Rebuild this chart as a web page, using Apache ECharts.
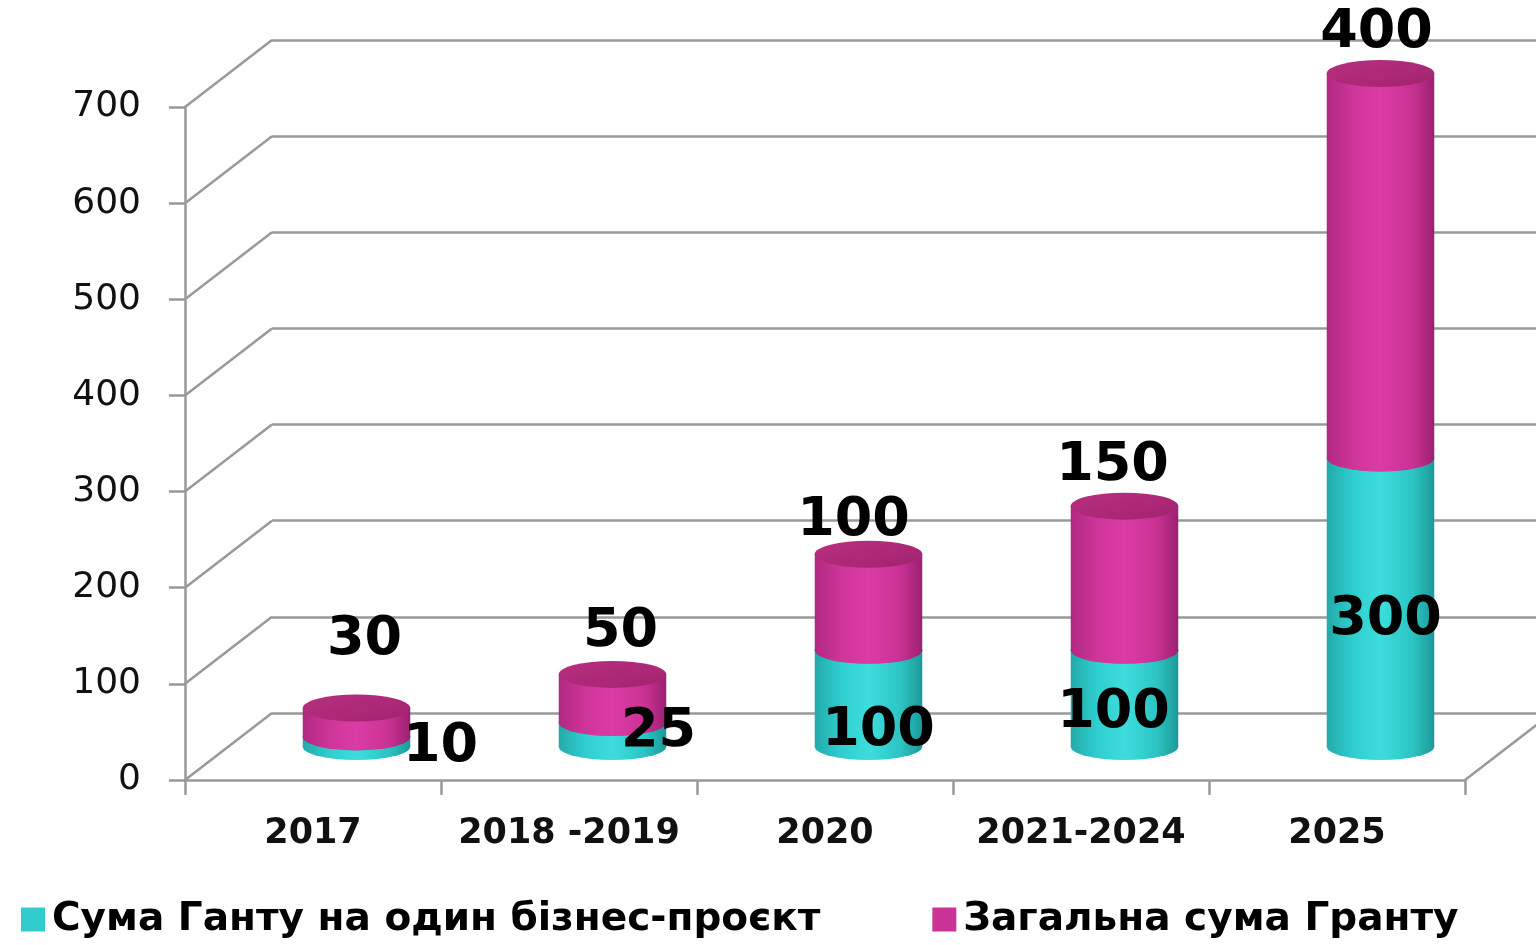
<!DOCTYPE html>
<html>
<head>
<meta charset="utf-8">
<script src="https://cdn.jsdelivr.net/npm/echarts@6/dist/echarts.min.js"></script>
<style>
  html, body { margin: 0; padding: 0; background: #fff; }
  #chart { width: 1536px; height: 945px; }
</style>
</head>
<body>
<div id="chart"></div>
<script>
// data
var categories = ['2017', '2018 -2019', '2020', '2021-2024', '2025'];
var grantPerProject = [10, 25, 100, 100, 300];
var totalGrant = [30, 50, 100, 150, 400];
var yMin = 0, yMax = 700, yStep = 100;

var seriesNames = ['Сума Ганту на один бізнес-проєкт', 'Загальна сума Гранту'];

// label nudges (px) relative to the default spot, like Excel placed them
var shiftPer = [[84, 5], [46, -3], [10, 33], [-11, 15], [5, 18]];
var shiftTotal = [[8, -68], [8, -42], [-15, -33], [-12, -40], [-4, -41]];

// 3d depth of the floor / back wall
var DX = 87, DY = 67, DEPTH = 0.5;
var FONT = '"DejaVu Sans", Verdana, sans-serif';
var GRID_COLOR = '#999999';

function drawTheChart() {
  var dom = document.getElementById('chart');
  var myChart = echarts.init(dom, null, { renderer: 'canvas' });

  var tickVals = [];
  for (var v = yMin; v <= yMax; v += yStep) tickVals.push([v]);

  var lowData = categories.map(function (c, i) {
    return [i, 0, grantPerProject[i], grantPerProject[i]];
  });
  var highData = categories.map(function (c, i) {
    return [i, grantPerProject[i], grantPerProject[i] + totalGrant[i], totalGrant[i]];
  });

  function cylinder(stops, topStops, shifts, midLabel) {
    return function (params, api) {
      var i = api.value(0);
      var pLo = api.coord([i, api.value(1)]);
      var pHi = api.coord([i, api.value(2)]);
      var bandW = api.size([1, 0])[0];
      var rx = bandW * 0.21, ry = 13.5;
      var cx = pLo[0] + DX * DEPTH;
      var yLo = pLo[1] - DY * DEPTH;
      var yHi = pHi[1] - DY * DEPTH;
      var side = new echarts.graphic.LinearGradient(0, 0, 1, 0, stops);
      var top = new echarts.graphic.LinearGradient(0, 0, 1, 1, topStops);
      var sh = shifts[params.dataIndex];
      var ly = midLabel ? (yLo + yHi) / 2 : yHi;
      return {
        type: 'group',
        children: [
          { type: 'circle', x: cx, y: yLo, scaleY: ry / rx, shape: { cx: 0, cy: 0, r: rx }, style: { fill: side } },
          { type: 'rect', shape: { x: cx - rx, y: yHi, width: rx * 2, height: yLo - yHi }, style: { fill: side } },
          { type: 'circle', x: cx, y: yHi, scaleY: ry / rx, shape: { cx: 0, cy: 0, r: rx }, style: { fill: top } },
          {
            type: 'text', z2: 100, x: cx + sh[0], y: ly + sh[1],
            style: {
              text: String(api.value(3)), font: 'bold 54px ' + FONT, fill: '#000',
              align: 'center', verticalAlign: 'middle'
            }
          }
        ]
      };
    };
  }

  var option = {
    animation: false,
    backgroundColor: '#fff',
    grid: [
      { left: 185, right: 71, top: 107, bottom: 165 },
      { left: 272, right: 0, top: 40, bottom: 232 }
    ],
    xAxis: [
      {
        type: 'category', gridIndex: 0, data: categories,
        axisLine: { lineStyle: { color: GRID_COLOR, width: 2.5 } },
        axisTick: { show: true, interval: 0, length: 15, lineStyle: { color: GRID_COLOR, width: 2.5 } },
        axisLabel: { interval: 0, color: '#111', fontSize: 35, fontWeight: 'bold', fontFamily: FONT, margin: 36 }
      },
      { type: 'category', gridIndex: 1, data: categories, show: false }
    ],
    yAxis: [
      {
        type: 'value', gridIndex: 0, min: yMin, max: yMax, interval: yStep,
        axisLine: { show: true, lineStyle: { color: GRID_COLOR, width: 2.5 } },
        axisTick: { show: true, length: 16, lineStyle: { color: GRID_COLOR, width: 2.5 } },
        splitLine: { show: false },
        axisLabel: { color: '#111', fontSize: 36, fontFamily: FONT, margin: 44 }
      },
      {
        type: 'value', gridIndex: 1, min: yMin, max: yMax, interval: yStep,
        axisLine: { show: false }, axisTick: { show: false }, axisLabel: { show: false },
        splitLine: { show: true, lineStyle: { color: GRID_COLOR, width: 2.5 } }
      }
    ],
    legend: {
      data: seriesNames,
      left: 16, top: 895,
      icon: 'rect', itemWidth: 24, itemHeight: 24, itemGap: 112,
      textStyle: { fontSize: 39, fontWeight: 'bold', fontFamily: FONT, color: '#000', padding: [0, 0, 0, 2] }
    },
    series: [
      {
        // diagonal frame lines between front axis and back wall
        type: 'custom', name: 'frame', silent: true,
        xAxisIndex: 0, yAxisIndex: 0, data: tickVals,
        renderItem: function (params, api) {
          var bandW = api.size([1, 0])[0];
          var p = api.coord([0, api.value(0)]);
          var left = p[0] - bandW / 2;
          var kids = [{
            type: 'line',
            shape: { x1: left, y1: p[1], x2: left + DX, y2: p[1] - DY },
            style: { stroke: GRID_COLOR, lineWidth: 2.5 }
          }];
          if (params.dataIndex === 0) {
            var r = api.coord([categories.length - 1, api.value(0)])[0] + bandW / 2;
            kids.push({
              type: 'line',
              shape: { x1: r, y1: p[1], x2: r + DX, y2: p[1] - DY },
              style: { stroke: GRID_COLOR, lineWidth: 2.5 }
            });
          }
          return { type: 'group', children: kids };
        }
      },
      {
        type: 'custom', name: seriesNames[0],
        xAxisIndex: 0, yAxisIndex: 0, data: lowData,
        itemStyle: { color: '#33cccc' },
        renderItem: cylinder(
          [{ offset: 0, color: '#22a9a9' }, { offset: 0.25, color: '#30cfcf' }, { offset: 0.5, color: '#3edddd' },
           { offset: 0.8, color: '#2cc4c4' }, { offset: 1, color: '#1c9999' }],
          [{ offset: 0, color: '#2bbcbc' }, { offset: 1, color: '#23a3a3' }],
          shiftPer, true)
      },
      {
        type: 'custom', name: seriesNames[1],
        xAxisIndex: 0, yAxisIndex: 0, data: highData,
        itemStyle: { color: '#cc3399' },
        renderItem: cylinder(
          [{ offset: 0, color: '#b02881' }, { offset: 0.25, color: '#cf3599' }, { offset: 0.5, color: '#dc3ca5' },
           { offset: 0.8, color: '#c93294' }, { offset: 1, color: '#9c2070' }],
          [{ offset: 0, color: '#b8307f' }, { offset: 1, color: '#a2236f' }],
          shiftTotal, false)
      }
    ]
  };

  myChart.setOption(option);
  window.addEventListener('resize', myChart.resize);
}

drawTheChart();
</script>
</body>
</html>
